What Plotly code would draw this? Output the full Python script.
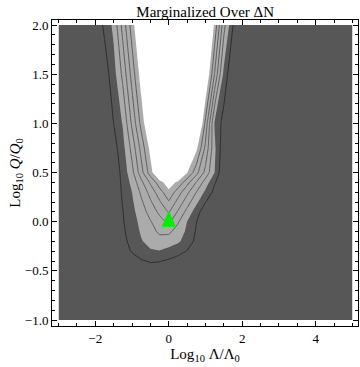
import plotly.graph_objects as go

# grid of the marginalized likelihood (level units)
log_lambda = [-3, -2, -1.75, -1.5, -1.25, -1.0, -0.75, -0.5, -0.25, 0,
              0.25, 0.5, 0.75, 1.0, 1.25, 1.5, 1.75, 2, 3, 5]
log_q = [-1.0, -0.5, -0.4, -0.3, -0.2, -0.1, 0.0, 0.1, 0.2, 0.3,
         0.4, 0.5, 0.75, 1.0, 1.5, 2.0]

level = [
    [0, 0, 0, 0, 0, 0, 0, 0, 0, 0, 0, 0, 0, 0, 0, 0, 0, 0, 0, 0],
    [0, 0, 0, 0, 0, 0.1, 0.3, 0.5, 0.45, 0.3, 0.1, 0, 0, 0, 0, 0, 0, 0, 0, 0],
    [0, 0, 0, 0, 0.2, 0.5, 0.9, 1.1, 1.05, 0.85, 0.6, 0.3, 0, 0, 0, 0, 0, 0, 0, 0],
    [0, 0, 0, 0, 0.5, 1.1, 1.5, 1.9, 1.95, 1.7, 1.35, 0.95, 0.4, 0, 0, 0, 0, 0, 0, 0],
    [0, 0, 0, 0.10, 0.71, 1.32, 1.93, 2.30, 2.65, 2.46, 2.16, 1.59, 0.72, 0, 0, 0, 0, 0, 0, 0],
    [0, 0, 0, 0.16, 0.82, 1.47, 2.11, 2.64, 3.18, 3.23, 2.54, 1.82, 0.89, 0, 0, 0, 0, 0, 0, 0],
    [0, 0, 0, 0.24, 0.92, 1.59, 2.27, 2.93, 3.59, 4.25, 3.13, 2.0, 1.04, 0.1, 0, 0, 0, 0, 0, 0],
    [0, 0, 0, 0.24, 0.97, 1.71, 2.52, 3.38, 4.24, 5.1, 3.89, 2.68, 1.48, 0.29, 0, 0, 0, 0, 0, 0],
    [0, 0, 0, 0.28, 1.06, 1.84, 2.82, 3.85, 4.88, 5.9, 4.68, 3.46, 2.24, 1.05, 0, 0, 0, 0, 0, 0],
    [0, 0, 0, 0.28, 1.14, 2.0, 3.19, 4.38, 5.56, 6.75, 5.50, 4.25, 3.0, 1.78, 0.70, 0, 0, 0, 0, 0],
    [0, 0, 0, 0.27, 1.23, 2.29, 3.73, 5.16, 6.60, 7.6, 6.78, 5.37, 3.97, 2.56, 1.12, 0, 0, 0, 0, 0],
    [0, 0, 0, 0.29, 1.33, 2.69, 4.61, 6.54, 8.46, 9.0, 8.76, 7.07, 5.38, 3.69, 2.0, 0, 0, 0, 0, 0],
    [0, 0, 0, 0.57, 1.65, 3.35, 5.33, 7.32, 9.30, 10, 10, 9.86, 7.31, 4.76, 2.21, 0.23, 0, 0, 0, 0],
    [0, 0, 0, 1.0, 2.08, 4.20, 6.32, 8.44, 10, 10, 10, 10, 9.74, 5.71, 1.89, 0.58, 0, 0, 0, 0],
    [0, 0, 0.48, 1.57, 3.27, 5.39, 7.51, 9.63, 10, 10, 10, 10, 10, 8.39, 4.92, 1.71, 0, 0, 0, 0],
    [0, 0.26, 1.19, 2.25, 4.37, 6.49, 8.61, 10, 10, 10, 10, 10, 10, 10, 6.73, 3.35, 1.0, 0, 0, 0],
]

best_x = [0]
best_y = [0]

serif = "Liberation Serif, Times New Roman, serif"

fig = go.Figure()

# filled bands: dark / light gray / white
fig.add_trace(go.Contour(
    x=log_lambda, y=log_q, z=level,
    contours=dict(start=2, end=7, size=5, coloring="fill", showlines=False),
    colorscale=[[0, "#575757"], [0.5, "#ababab"], [1, "#ffffff"]],
    line=dict(width=0, smoothing=0),
    showscale=False, hoverinfo="skip",
))
# inner contour lines
fig.add_trace(go.Contour(
    x=log_lambda, y=log_q, z=level,
    contours=dict(start=3, end=6, size=1, coloring="none"),
    line=dict(color="#5e5e5e", width=1, smoothing=0),
    showscale=False, hoverinfo="skip",
))
# outer contour line
fig.add_trace(go.Contour(
    x=log_lambda, y=log_q, z=level,
    contours=dict(start=1, end=1.5, size=1, coloring="none"),
    line=dict(color="#2e2e2e", width=1, smoothing=0),
    showscale=False, hoverinfo="skip",
))

# green triangle at the best-fit point (tall triangle via pixel-sized shape)
fig.add_shape(
    type="path", xref="x", yref="y",
    xsizemode="pixel", ysizemode="pixel",
    xanchor=best_x[0], yanchor=best_y[0],
    path="M -7,-5 L 7,-5 L 0,11 Z",
    fillcolor="#00ee00", line=dict(width=0),
)

fig.update_layout(
    width=360, height=367,
    margin=dict(l=52, r=2, t=20, b=41, autoexpand=False),
    paper_bgcolor="white", plot_bgcolor="white",
    font=dict(family=serif, size=13, color="black"),
    title=dict(text="Marginalized Over ΔN", x=0.57, xanchor="center",
               y=0.967, yanchor="middle", font=dict(family=serif, size=15)),
    showlegend=False,
)

fig.update_xaxes(
    range=[-3.177, 5.15], tickvals=[-2, 0, 2, 4],
    ticks="inside", ticklen=5, tickcolor="black",
    minor=dict(dtick=0.5, tick0=0, ticks="inside", ticklen=3, tickcolor="black"),
    showline=True, linecolor="black", linewidth=1, mirror="allticks",
    showgrid=False, zeroline=False, automargin=False,
    title=dict(text="Log<sub>10</sub> Λ/Λ<sub>0</sub>", font=dict(size=15), standoff=2),
)
fig.update_yaxes(
    range=[-1.061, 2.051], dtick=0.5, tick0=0, tickformat=".1f",
    ticks="inside", ticklen=5, tickcolor="black",
    minor=dict(dtick=0.1, tick0=0, ticks="inside", ticklen=3, tickcolor="black"),
    showline=True, linecolor="black", linewidth=1, mirror="allticks",
    showgrid=False, zeroline=False, automargin=False,
    title=dict(text="Log<sub>10</sub> <i>Q</i>/<i>Q</i><sub>0</sub>", font=dict(size=15), standoff=0),
)

# drop the browser's default body margin so the figure sits at the page corner
fig.write_html("out.html", config={"displayModeBar": False},
               post_script="document.body.style.margin='0';")
